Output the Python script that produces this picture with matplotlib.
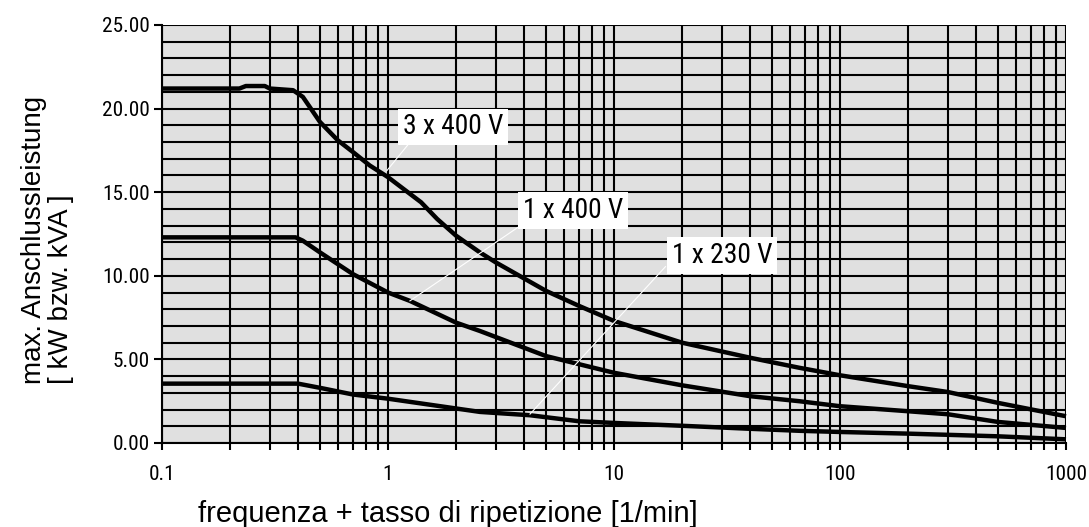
import matplotlib
matplotlib.use("Agg")
import matplotlib.pyplot as plt
from matplotlib import font_manager
from matplotlib.font_manager import FontProperties
from matplotlib.ticker import LogLocator, FixedLocator, NullFormatter
import numpy as np

# Data
x_3x400 = [0.1, 0.22, 0.235, 0.285, 0.3, 0.38, 0.42, 0.5, 0.6, 0.7, 0.83, 1.0, 1.4, 1.65, 2.0, 2.55, 3.0, 5.0, 7.0, 10, 20, 40, 66, 100, 200, 300, 500, 1000]
y_3x400 = [21.2, 21.2, 21.35, 21.35, 21.2, 21.1, 20.7, 19.2, 18.1, 17.4, 16.6, 15.9, 14.4, 13.4, 12.4, 11.4, 10.8, 9.1, 8.2, 7.3, 6.0, 5.1, 4.5, 4.05, 3.4, 3.05, 2.4, 1.6]
x_1x400 = [0.1, 0.39, 0.42, 0.5, 0.7, 1.0, 1.25, 2.0, 2.55, 5.0, 8.7, 10, 20, 40, 66, 100, 200, 300, 500, 1000]
y_1x400 = [12.3, 12.3, 12.1, 11.4, 10.1, 9.0, 8.5, 7.2, 6.7, 5.2, 4.4, 4.2, 3.45, 2.8, 2.5, 2.2, 1.9, 1.72, 1.26, 0.9]
x_1x230 = [0.1, 0.4, 0.5, 0.7, 1.0, 2.55, 4.25, 7.0, 10, 20, 40, 66, 100, 200, 500, 1000]
y_1x230 = [3.55, 3.55, 3.3, 2.9, 2.65, 1.86, 1.66, 1.3, 1.2, 1.03, 0.85, 0.73, 0.66, 0.56, 0.4, 0.22]

labels = ["3 x 400 V", "1 x 400 V", "1 x 230 V"]
label_pos = [(1.94, 18.9), (6.59, 13.92), (30.0, 11.2)]
leader_start = [(1.25, 17.98), (3.76, 12.9), (16.9, 10.55)]
leader_end = [(0.987, 16.28), (1.25, 8.5), (4.25, 1.73)]

yticks = [0, 5, 10, 15, 20, 25]
ytick_labels = ["0.00", "5.00", "10.00", "15.00", "20.00", "25.00"]
xticks = [0.1, 1, 10, 100, 1000]
xtick_labels = ["0.1", "1", "10", "100", "1000"]


def find_narrow():
    prefs = ['Liberation Sans Narrow', 'Arial Narrow', 'Roboto Condensed', 'Open Sans Condensed',
             'Noto Sans Condensed', 'Noto Sans', 'DejaVu Sans Condensed', 'DejaVu Sans']
    entries = font_manager.fontManager.ttflist
    for p in prefs:
        for f in entries:
            if f.name != p or f.style != 'normal':
                continue
            w = f.weight
            if not isinstance(w, int):
                w = font_manager.weight_dict.get(w, 400)
            if w not in (400,):
                continue
            if ('Narrow' in p or 'Condensed' in p or f.stretch in ('condensed', 'semi-condensed')):
                return f.fname
    return None


RFONT = ['Liberation Sans', 'DejaVu Sans']
plt.rcParams['font.family'] = RFONT
narrow_path = find_narrow()


def make_prop(size):
    if narrow_path:
        return FontProperties(fname=narrow_path, size=size)
    return FontProperties(family=RFONT, size=size)


fig = plt.figure(figsize=(10.89, 5.27), dpi=100)
renderer = fig.canvas.get_renderer()


def fit_size(text, target_px, max_size):
    w, h, d = renderer.get_text_width_height_descent(text, make_prop(10), ismath=False)
    return min(max_size, 10 * target_px / w)


tick_prop = make_prop(fit_size("25.00", 47, 16))
lab_prop = make_prop(fit_size("1 x 400 V", 100, 21))

ax = fig.add_axes([162/1089, 84/527, (1066-162)/1089, (443-25)/527])
ax.set_facecolor('#e0e0e0')
ax.set_xscale('log')
ax.set_xlim(0.1, 1000)
ax.set_ylim(0, 25)

ax.xaxis.set_major_locator(FixedLocator(xticks))
ax.xaxis.set_minor_locator(LogLocator(base=10, subs=np.arange(2, 10)))
ax.xaxis.set_minor_formatter(NullFormatter())
ax.set_xticklabels(xtick_labels, fontproperties=tick_prop)
ax.yaxis.set_major_locator(FixedLocator(yticks))
ax.yaxis.set_minor_locator(FixedLocator(np.arange(0, 26, 1)))
ax.set_yticklabels(ytick_labels, fontproperties=tick_prop)
ax.grid(which='both', color='black', linewidth=1.5)
ax.tick_params(axis='x', which='both', direction='out', length=5, width=1.5, pad=11)
ax.tick_params(axis='y', which='major', direction='out', length=6, width=1.5, pad=3)
ax.tick_params(axis='y', which='minor', length=0)
for s in ['top', 'right']:
    ax.spines[s].set_visible(False)
for s in ['left', 'bottom']:
    ax.spines[s].set_linewidth(1.5)
ax.set_axisbelow(True)

for xs, ys in [(x_3x400, y_3x400), (x_1x400, y_1x400), (x_1x230, y_1x230)]:
    ax.plot(xs, ys, color='black', linewidth=3.2, solid_capstyle='butt', zorder=3, clip_on=False)

for lab, pos, ls, le in zip(labels, label_pos, leader_start, leader_end):
    ax.plot([ls[0], le[0]], [ls[1], le[1]], color='white', linewidth=0.8, zorder=4)
    ax.text(pos[0], pos[1], lab, ha='center', va='center', zorder=5,
            fontproperties=lab_prop, bbox=dict(facecolor='white', edgecolor='none', pad=3.5))

fig.text(48/1089, 1 - 240/527, "max. Anschlussleistung\n[ kW bzw. kVA ]", rotation=90,
         ha='center', va='center', multialignment='left', fontsize=20, family=RFONT, linespacing=1.05)
fig.text(198/1089, 5/527, "frequenza + tasso di ripetizione [1/min]", ha='left', va='baseline',
         fontsize=21, family=RFONT)

fig.savefig('out.png', dpi=100)
